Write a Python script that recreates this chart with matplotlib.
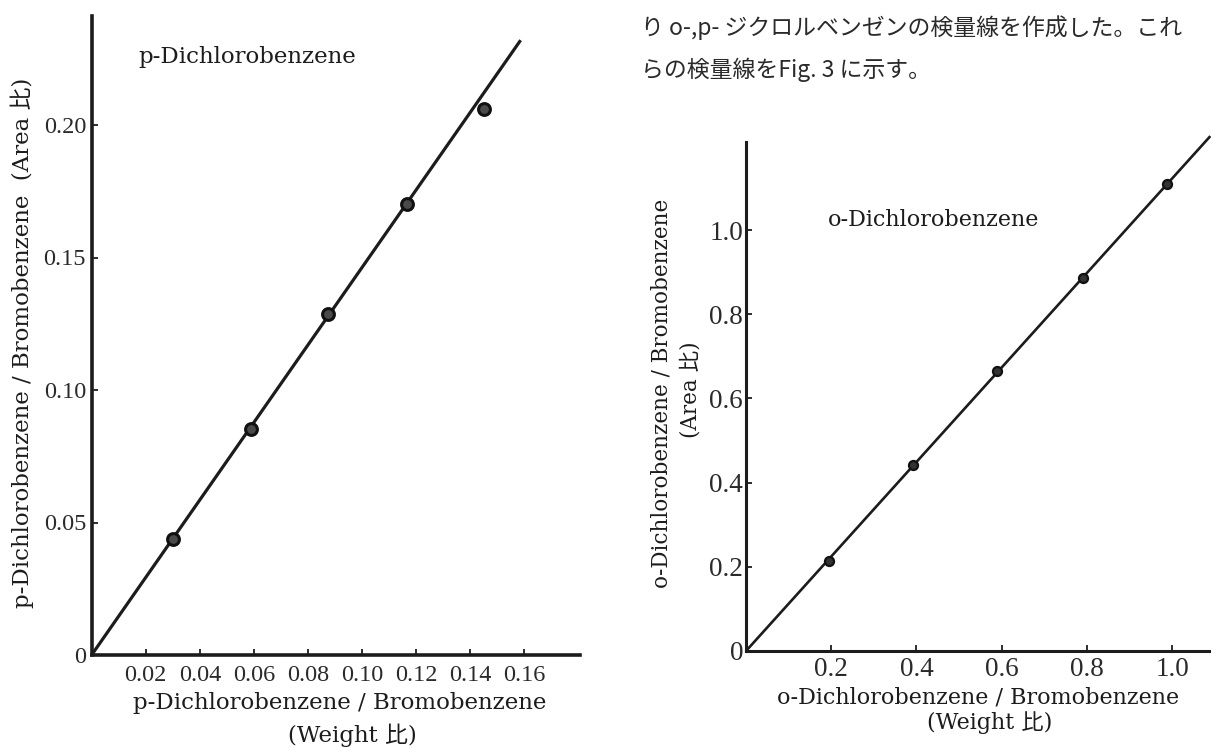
import matplotlib
matplotlib.use("Agg")
import matplotlib.pyplot as plt

# ---------------- data ----------------
# p-Dichlorobenzene calibration (left)
p_weight = [0.030, 0.0588, 0.0875, 0.1165, 0.145]
p_area = [0.0437, 0.0853, 0.1287, 0.170, 0.206]
p_fit_x = [0.0, 0.1586]
p_fit_y = [0.0, 0.232]
p_xticks = [0.02, 0.04, 0.06, 0.08, 0.10, 0.12, 0.14, 0.16]
p_xticklabels = ["0.02", "0.04", "0.06", "0.08", "0.10", "0.12", "0.14", "0.16"]
p_yticks = [0.0, 0.05, 0.10, 0.15, 0.20]
p_yticklabels = ["0", "0.05", "0.10", "0.15", "0.20"]

# o-Dichlorobenzene calibration (right)
o_weight = [0.195, 0.393, 0.590, 0.792, 0.989]
o_area = [0.214, 0.441, 0.665, 0.885, 1.110]
o_fit_x = [0.0, 1.09]
o_fit_y = [0.0, 1.223]
o_xticks = [0.2, 0.4, 0.6, 0.8, 1.0]
o_xticklabels = ["0.2", "0.4", "0.6", "0.8", "1.0"]
o_yticks = [0.0, 0.2, 0.4, 0.6, 0.8, 1.0]
o_yticklabels = ["0", "0.2", "0.4", "0.6", "0.8", "1.0"]

W, H = 1211, 748
def fx(x):
    return x / W
def fy(y):
    return 1 - y / H

INK = "#1c1c1c"
TXT = ["DejaVu Serif", "Noto Sans CJK JP"]
NUM = ["Liberation Serif", "DejaVu Serif"]

fig = plt.figure(figsize=(W / 100, H / 100), dpi=100)
fig.patch.set_facecolor("white")

def style_axes(ax, lw, tick_fs, ypad, xpad):
    for s in ["top", "right"]:
        ax.spines[s].set_visible(False)
    for s in ["left", "bottom"]:
        ax.spines[s].set_linewidth(lw)
        ax.spines[s].set_color(INK)
        ax.spines[s].set_capstyle("projecting")
    ax.tick_params(direction="in", length=4, width=1.3, colors=INK)
    ax.tick_params(axis="y", pad=ypad)
    ax.tick_params(axis="x", pad=xpad)
    for lab in ax.get_xticklabels() + ax.get_yticklabels():
        lab.set_family(NUM)
        lab.set_fontsize(tick_fs)
        lab.set_color("#2a2a2a")
    ax.set_facecolor("none")

# ---------------- left chart ----------------
x0, y0 = 91.6, 655
ax1 = fig.add_axes([fx(x0), fy(y0), (580 - x0) / W, (y0 - 16) / H])
ax1.set_xlim(0, (580 - x0) / 2705)
ax1.set_ylim(0, (y0 - 16) / 2650)
ax1.plot(p_fit_x, p_fit_y, color=INK, lw=2.3, solid_capstyle="butt", clip_on=False)
ax1.plot(p_weight, p_area, "o", ms=8.5, mfc="#4a4a4a", mec="#111111", mew=2.2, clip_on=False)
ax1.set_xticks(p_xticks)
ax1.set_xticklabels(p_xticklabels)
ax1.set_yticks(p_yticks)
ax1.set_yticklabels(p_yticklabels)
style_axes(ax1, 2.6, 17.5, 4, 7)

fig.text(fx(138), fy(57), "p-Dichlorobenzene", family=TXT, fontsize=16.5,
         color=INK, ha="left", va="center")
fig.text(fx(22), fy(343), "p-Dichlorobenzene / Bromobenzene  (Area 比)", family=TXT,
         fontsize=16.5, color=INK, rotation=90, ha="center", va="center")
fig.text(fx(340), fy(703), "p-Dichlorobenzene / Bromobenzene", family=TXT,
         fontsize=16.5, color=INK, ha="center", va="center")
fig.text(fx(352), fy(735), "(Weight 比)", family=TXT,
         fontsize=16.5, color=INK, ha="center", va="center")

# ---------------- right chart ----------------
x1, y1 = 746, 651
ax2 = fig.add_axes([fx(x1), fy(y1), (1262 - x1) / W, (y1 - 142) / H])
ax2.set_xlim(0, (1262 - x1) / 426)
ax2.set_ylim(0, (y1 - 142) / 421)
ax2.plot(o_fit_x, o_fit_y, color=INK, lw=1.9, solid_capstyle="butt", clip_on=False)
ax2.plot(o_weight, o_area, "o", ms=6.5, mfc="#333333", mec="#111111", mew=1.6, clip_on=False)
ax2.set_xticks(o_xticks)
ax2.set_xticklabels(o_xticklabels)
ax2.set_yticks(o_yticks)
ax2.set_yticklabels(o_yticklabels)
style_axes(ax2, 2.2, 19.5, 2, 4)

fig.text(fx(828), fy(220), "o-Dichlorobenzene", family=TXT, fontsize=16,
         color=INK, ha="left", va="center")
fig.text(fx(662), fy(393), "o-Dichlorobenzene / Bromobenzene", family=TXT,
         fontsize=15.5, color=INK, rotation=90, ha="center", va="center")
fig.text(fx(690), fy(390), "(Area 比)", family=TXT,
         fontsize=15.5, color=INK, rotation=90, ha="center", va="center")
fig.text(fx(978), fy(697), "o-Dichlorobenzene / Bromobenzene", family=TXT,
         fontsize=16, color=INK, ha="center", va="center")
fig.text(fx(990), fy(723), "(Weight 比)", family=TXT,
         fontsize=16, color=INK, ha="center", va="center")

# ---------------- body text ----------------
fig.text(fx(641), fy(28), "り o-,p- ジクロルベンゼンの検量線を作成した。これ",
         family=["Noto Sans CJK JP", "DejaVu Sans"], fontsize=16.5, color="#2a2a2a",
         ha="left", va="center")
fig.text(fx(641), fy(70), "らの検量線をFig. 3 に示す。",
         family=["Noto Sans CJK JP", "DejaVu Sans"], fontsize=16.5, color="#2a2a2a",
         ha="left", va="center")

fig.savefig("out.png", dpi=100, facecolor="white")
